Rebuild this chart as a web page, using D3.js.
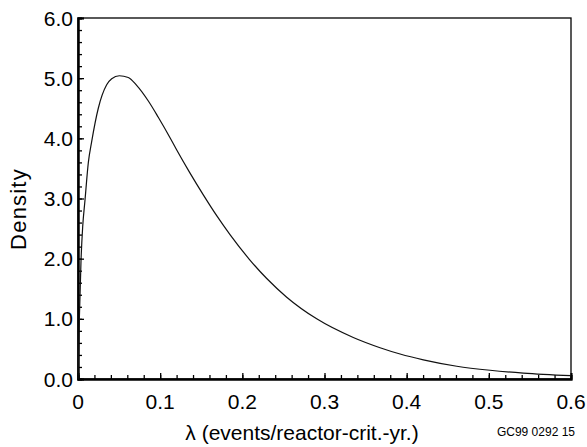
<!DOCTYPE html>
<html>
<head>
<meta charset="utf-8">
<script src="https://cdn.jsdelivr.net/npm/d3@7"></script>
<style>
  html, body { margin: 0; padding: 0; background: #fff; }
  svg { display: block; }
  text { font-family: "Liberation Sans", Arial, sans-serif; fill: #000; }
</style>
</head>
<body>
<svg id="chart" width="587" height="447"></svg>
<script>
// Data
const lambdaValues = [0, 0.0016, 0.0037, 0.0057, 0.0085, 0.0126, 0.0167, 0.0247, 0.0349, 0.041,
  0.0503, 0.0612, 0.0714, 0.0856, 0.0977, 0.112, 0.120, 0.136, 0.1525, 0.169, 0.185, 0.2085,
  0.2297, 0.254, 0.2905, 0.335, 0.3676, 0.392, 0.4203, 0.461, 0.5015, 0.542, 0.6];
const densityValues = [0, 0.98, 1.98, 2.53, 2.97, 3.6, 3.95, 4.5, 4.89, 4.99,
  5.04, 5.01, 4.88, 4.62, 4.35, 4.01, 3.81, 3.43, 3.06, 2.71, 2.40, 1.99,
  1.67, 1.36, 1.0, 0.69, 0.52, 0.415, 0.318, 0.212, 0.145, 0.098, 0.055];
const xTickValues = [0, 0.1, 0.2, 0.3, 0.4, 0.5, 0.6];
const xTickLabels = ["0", "0.1", "0.2", "0.3", "0.4", "0.5", "0.6"];
const yTickValues = [0, 1, 2, 3, 4, 5, 6];
const yTickLabels = ["0.0", "1.0", "2.0", "3.0", "4.0", "5.0", "6.0"];
const xTitle = "λ (events/reactor-crit.-yr.)";
const yTitle = "Density";
const figureId = "GC99 0292 15";

(function () {
const svg = d3.select("#chart");
const mLeft = 78, mRight = 571, mTop = 18, mBottom = 379;

const x = d3.scaleLinear().domain([0, 0.6]).range([mLeft, mRight]);
const y = d3.scaleLinear().domain([0, 6]).range([mBottom, mTop]);

// Frame (top and right borders)
svg.append("rect")
  .attr("x", mLeft).attr("y", mTop)
  .attr("width", mRight - mLeft).attr("height", mBottom - mTop)
  .attr("fill", "none").attr("stroke", "#000").attr("stroke-width", 1.3);

// X axis: minor ticks every 0.02, major at labels, pointing inward
const xMinor = d3.range(0, 0.6001, 0.02);
const gxm = svg.append("g").attr("transform", `translate(0,${mBottom})`)
  .call(d3.axisTop(x).tickValues(xMinor).tickSize(4).tickFormat(""));
const gxM = svg.append("g").attr("transform", `translate(0,${mBottom})`)
  .call(d3.axisTop(x).tickValues(xTickValues).tickSize(6).tickFormat(""));
[gxm, gxM].forEach(g => {
  g.select(".domain").attr("stroke", "#000").attr("stroke-width", 2);
  g.selectAll(".tick line").attr("stroke", "#000").attr("stroke-width", 1.3);
});
svg.append("g").selectAll("text").data(xTickValues).join("text")
  .attr("x", d => x(d)).attr("y", 409)
  .attr("text-anchor", "middle")
  .attr("font-size", 21)
  .text((d, i) => xTickLabels[i]);

// Y axis: minor ticks every 0.2, pointing inward
const yMinor = d3.range(0, 6.001, 0.2);
const gym = svg.append("g").attr("transform", `translate(${mLeft},0)`)
  .call(d3.axisRight(y).tickValues(yMinor).tickSize(4).tickFormat(""));
const gyM = svg.append("g").attr("transform", `translate(${mLeft},0)`)
  .call(d3.axisRight(y).tickValues(yTickValues).tickSize(6).tickFormat(""));
[gym, gyM].forEach(g => {
  g.select(".domain").attr("stroke", "#000").attr("stroke-width", 2);
  g.selectAll(".tick line").attr("stroke", "#000").attr("stroke-width", 1.3);
});
svg.append("g").selectAll("text").data(yTickValues).join("text")
  .attr("x", 73).attr("y", d => y(d))
  .attr("dy", "0.36em")
  .attr("text-anchor", "end")
  .attr("font-size", 21)
  .text((d, i) => yTickLabels[i]);

// Curve
const line = d3.line()
  .x((d, i) => x(lambdaValues[i]))
  .y(d => y(d))
  .curve(d3.curveMonotoneX);
svg.append("path")
  .datum(densityValues)
  .attr("d", line)
  .attr("fill", "none")
  .attr("stroke", "#111")
  .attr("stroke-width", 1.2);

// Titles
svg.append("text")
  .attr("x", 302).attr("y", 440)
  .attr("text-anchor", "middle")
  .attr("font-size", 21)
  .text(xTitle);
svg.append("text")
  .attr("transform", "translate(26,209) rotate(-90)")
  .attr("text-anchor", "middle")
  .attr("font-size", 22)
  .attr("letter-spacing", 1.2)
  .text(yTitle);
svg.append("text")
  .attr("x", 575).attr("y", 436)
  .attr("text-anchor", "end")
  .attr("font-size", 12)
  .text(figureId);
})();
</script>
</body>
</html>
